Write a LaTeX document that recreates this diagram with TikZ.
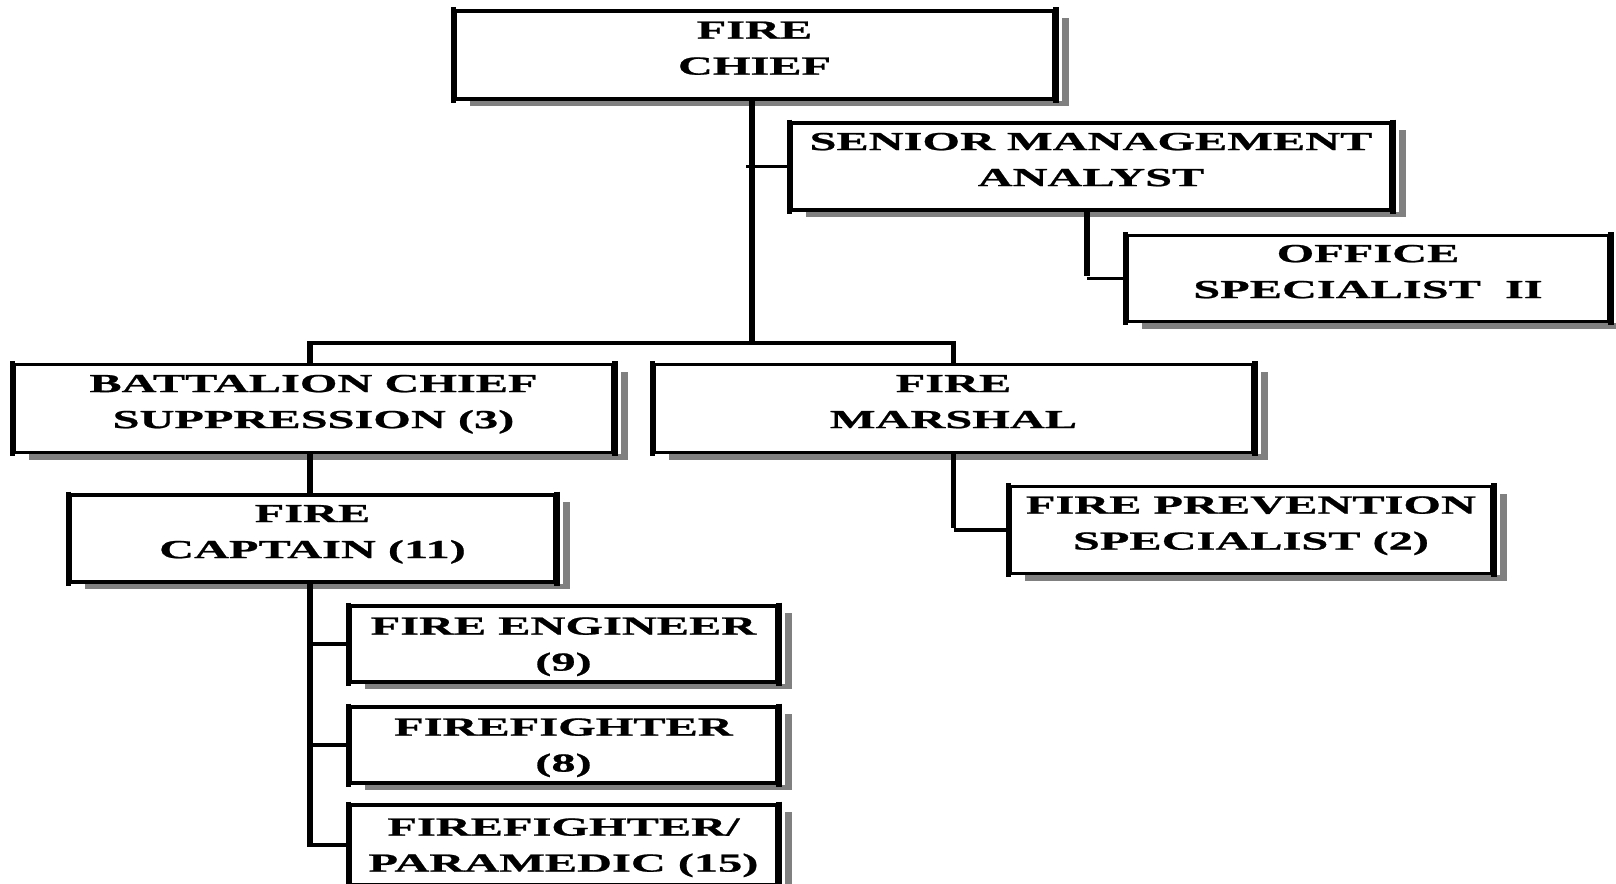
\documentclass[tikz,border=0pt]{standalone}
\usepackage{fontspec}
\newfontfamily\boxfont{Liberation Serif}[FakeStretch=1.86,FakeBold=0.9]
\usetikzlibrary{shadows}
\newcommand{\tlbig}[2]{\rule{0pt}{20pt}#1\\#2\rule[-16.8pt]{0pt}{16.8pt}}
\newcommand{\tlsmall}[2]{\rule{0pt}{25pt}#1\\#2\rule[-7.8pt]{0pt}{7.8pt}}
\definecolor{shadowgray}{gray}{0.5}
\tikzset{
  orgbox/.style={draw=black, line width=3.5pt, fill=white, inner sep=0pt, align=center,
    font=\boxfont\bfseries\fontsize{26}{36}\selectfont,
    drop shadow={shadow xshift=14.5pt, shadow yshift=-7pt, fill=shadowgray, opacity=1},
    append after command={
      ([xshift=4.5pt]\tikzlastnode.north east) edge[draw=white, line width=3pt] ([xshift=4.5pt]\tikzlastnode.south east)
      (\tikzlastnode.north west) edge[vline, shorten <=-1.75pt, shorten >=-1.75pt] (\tikzlastnode.south west)
      (\tikzlastnode.north east) edge[vline, shorten <=-1.75pt, shorten >=-1.75pt] (\tikzlastnode.south east)
    }},
  vline/.style={draw=black, line width=5.5pt},
  hline/.style={draw=black, line width=3.5pt}
}
\begin{document}
\begin{tikzpicture}[x=1pt,y=-1pt]
\useasboundingbox (0,0) rectangle (1616,883);
\clip (0,0) rectangle (1616,883);
\fill[white] (0,0) rectangle (1616,883);
% nodes
\node[orgbox, minimum width=599pt, minimum height=88pt] (chief) at (754.5,55) {\tlbig{FIRE}{CHIEF}};
\node[orgbox, minimum width=600pt, minimum height=87pt] (sma) at (1091,166.5) {\tlbig{SENIOR MANAGEMENT}{ANALYST}};
\node[orgbox, minimum width=482pt, minimum height=86pt] (os) at (1368,278.5) {\tlbig{OFFICE}{SPECIALIST\ \ II}};
\node[orgbox, minimum width=599pt, minimum height=88pt] (bc) at (313.5,408.5) {\tlbig{BATTALION CHIEF}{SUPPRESSION (3)}};
\node[orgbox, minimum width=599pt, minimum height=88pt] (fm) at (953.5,408.5) {\tlbig{FIRE}{MARSHAL}};
\node[orgbox, minimum width=482pt, minimum height=87pt] (fps) at (1251,530) {\tlbig{FIRE PREVENTION}{SPECIALIST (2)}};
\node[orgbox, minimum width=485pt, minimum height=87pt] (fc) at (312.5,538.5) {\tlbig{FIRE}{CAPTAIN (11)}};
\node[orgbox, minimum width=427pt, minimum height=76pt] (fe) at (563.5,644) {\tlsmall{FIRE ENGINEER}{(9)}};
\node[orgbox, minimum width=427pt, minimum height=76pt] (ff) at (563.5,745) {\tlsmall{FIREFIGHTER}{(8)}};
\node[orgbox, minimum width=427pt, minimum height=80pt] (ffp) at (563.5,845) {\tlsmall{FIREFIGHTER/}{PARAMEDIC (15)}};
\coordinate (bar) at (752,343);
\coordinate (lb) at (310,343);
% connectors
\draw[vline] ([xshift=-2.5pt]chief.south) -- (bar);
\draw[hline] ([xshift=-2.75pt]lb) -- ([xshift=2.75pt]bar -| fm.north);
\draw[vline] ([yshift=1.75pt]lb) -- (lb |- bc.north);
\draw[vline] ([yshift=1.75pt]bar -| fm.north) -- (fm.north);
\draw[hline] ([xshift=-6pt]bar |- sma.west) -- (sma.west);
\draw[vline] ([xshift=-4pt]sma.south) -- ([xshift=-4pt,yshift=2.5pt]sma.south |- os.west);
\draw[hline] ([xshift=-4pt]sma.south |- os.west) -- (os.west);
\draw[vline] (fm.south) -- ([yshift=2.5pt]fm.south |- fps.west);
\draw[hline] (fm.south |- fps.west) -- (fps.west);
\draw[vline] (lb |- bc.south) -- (lb |- fc.north);
\draw[vline] (lb |- fc.south) -- ([yshift=1.75pt]lb |- ffp.west);
\draw[hline] ([xshift=-2.75pt]lb |- fe.west) -- (fe.west);
\draw[hline] ([xshift=-2.75pt]lb |- ff.west) -- (ff.west);
\draw[hline] ([xshift=-2.75pt]lb |- ffp.west) -- (ffp.west);
\end{tikzpicture}
\end{document}
